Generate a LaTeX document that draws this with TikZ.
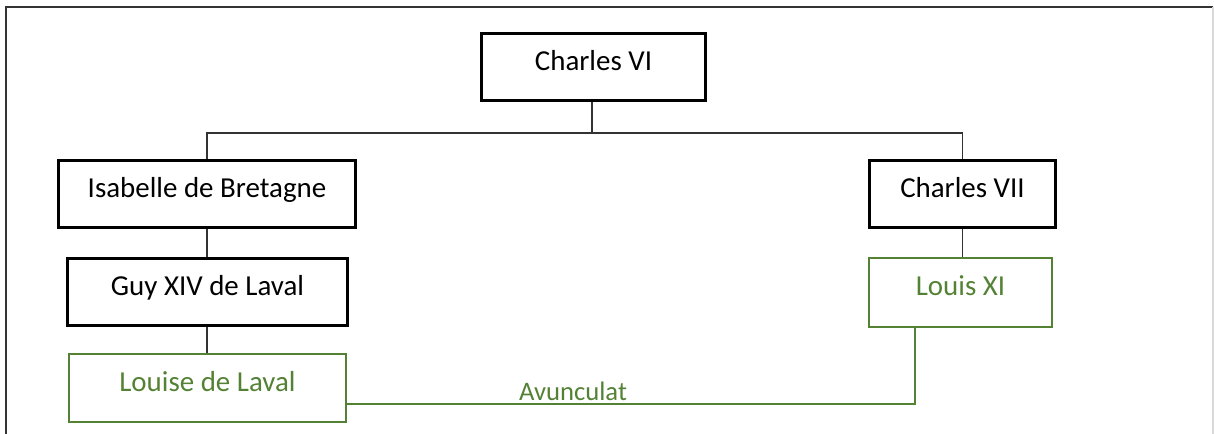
\documentclass[tikz,border=0pt]{standalone}
\usepackage{fontspec}
\setmainfont{Carlito}
\definecolor{lgreen}{HTML}{548235}
\begin{document}
\begin{tikzpicture}[x=0.75pt,y=-0.75pt,
  person/.style={draw=black,line width=2pt,rectangle,inner sep=0pt,
    font=\fontsize{21.7}{26}\selectfont,text height=0.7em,text depth=0.24em},
  greenperson/.style={person,draw=lgreen,line width=1.9pt,text=lgreen},
  link/.style={draw=black!80,line width=0.8pt},
  glink/.style={draw=lgreen,line width=1pt}]
\useasboundingbox (0,0) rectangle (1214,434);
% outer frame
\draw[black!80,line width=1.2pt] (6,436) -- (6,7) -- (1213,7);
\draw[black!15,line width=0.8pt] (1213,7) -- (1213,436);
% persons
\node[person,minimum width=224*0.75pt,minimum height=67*0.75pt] (cvi) at (593.5,67) {Charles VI};
\node[person,minimum width=297*0.75pt,minimum height=67*0.75pt] (isa) at (207,194) {Isabelle de Bretagne};
\node[person,minimum width=186*0.75pt,minimum height=67*0.75pt] (c7) at (962.5,194) {Charles VII};
\node[person,minimum width=280*0.75pt,minimum height=67*0.75pt] (guy) at (207.5,292) {Guy XIV de Laval};
\node[greenperson,minimum width=183*0.75pt,minimum height=69*0.75pt] (louis) at (960.5,292.5) {Louis XI};
\node[greenperson,minimum width=277*0.75pt,minimum height=68*0.75pt] (louise) at (207.5,388) {Louise de Laval};
% connectors
\coordinate (bar) at (592,133);
\draw[link] (cvi.south -| bar) -- (bar);
\draw[link] (isa.north) -- (isa.north |- bar) -- (c7.north |- bar) -- (c7.north);
\draw[link] (isa.south) -- (guy.north -| isa.south);
\draw[link] (guy.south -| isa.south) -- (louise.north -| isa.south);
\draw[link] (c7.south) -- (louis.north -| c7.south);
\coordinate (av) at (915,404);
\draw[glink] (louis.south -| av) -- (av) -- (louise.east |- av);
\node[text=lgreen,font=\fontsize{20}{24}\selectfont,anchor=base,inner sep=0pt] (avl) at (573,401) {Avunculat};
\end{tikzpicture}
\end{document}
